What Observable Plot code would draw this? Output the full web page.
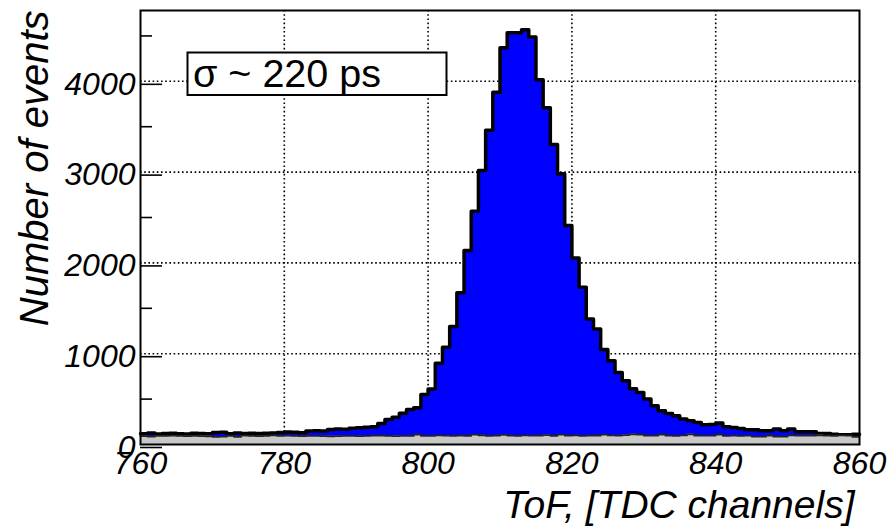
<!DOCTYPE html>
<html>
<head>
<meta charset="utf-8">
<script src="https://cdn.jsdelivr.net/npm/d3@7"></script>
<script src="https://cdn.jsdelivr.net/npm/@observablehq/plot@0.6"></script>
<style>
  html, body { margin: 0; padding: 0; background: #fff; }
  #chart { width: 890px; height: 531px; }
</style>
</head>
<body>
<div id="chart"></div>
<script>
// ---- data ----
const channelRange = [760, 860];          // x axis range (TDC channels)
const channels = d3.range(760, 860);      // bin lower edges, width 1 channel
const blueCounts = [
  118, 126, 116, 120, 124, 119, 117, 124, 121, 118,
  132, 134, 119, 128, 121, 124, 120, 125, 128, 131,
  138, 134, 130, 150, 152, 150, 165, 172, 168, 180,
  185, 190, 196, 230, 275, 300, 345, 385, 405, 552,
  611, 895, 1070, 1300, 1670, 2136, 2570, 3018, 3460, 3880,
  4370, 4536, 4536, 4569, 4488, 4018, 3709, 3304, 2981, 2411,
  2055, 1731, 1382, 1272, 1045, 923, 794, 702, 615, 573,
  500, 427, 372, 342, 316, 280, 261, 243, 217, 220,
  236, 195, 187, 176, 162, 162, 151, 151, 170, 151,
  170, 140, 140, 140, 121, 121, 114, 107, 107, 114
];
const grayCounts = [
  92, 86, 95, 96, 98, 94, 92, 95, 93, 90,
  84, 86, 95, 85, 97, 96, 92, 95, 100, 96,
  98, 94, 92, 96, 95, 92, 90, 93, 94, 96,
  92, 95, 97, 99, 95, 93, 96, 94, 110, 95,
  96, 100, 97, 95, 99, 96, 108, 102, 95, 97,
  105, 98, 96, 100, 97, 99, 104, 96, 108, 97,
  100, 95, 99, 97, 108, 100, 98, 104, 112, 110,
  99, 97, 110, 98, 96, 100, 112, 99, 97, 98,
  110, 96, 98, 95, 97, 88, 86, 99, 88, 86,
  100, 98, 97, 99, 101, 97, 96, 100, 98, 84
];
const yMax = 4780;
const xTicks = [760, 780, 800, 820, 840, 860];
const xGrid = [780, 800, 820, 840];
const yTicks = [0, 1000, 2000, 3000, 4000];
const yMinorTicks = [500, 1500, 2500, 3500, 4500];
const xTitle = "ToF, [TDC channels]";
const yTitle = "Number of events";
const legendText = "σ ~ 220 ps";

// step-outline points: one per bin edge, last value repeated at the upper edge
function stepPoints(counts) {
  const pts = channels.map((c, i) => ({x: c, y: counts[i]}));
  pts.push({x: channels[channels.length - 1] + 1, y: counts[counts.length - 1]});
  return pts;
}
const bluePts = stepPoints(blueCounts);
const grayPts = stepPoints(grayCounts);

const font = "'Liberation Sans', Arial, Helvetica, sans-serif";
const dotted = {stroke: "#000", strokeWidth: 1.6, strokeDasharray: "1.6,2.6"};

const plot = Plot.plot({
  width: 890,
  height: 531,
  marginLeft: 140,
  marginRight: 31,
  marginTop: 10,
  marginBottom: 87,
  style: {fontFamily: font, background: "#fff", color: "#000"},
  x: {domain: channelRange, label: null},
  y: {domain: [0, yMax], label: null},
  marks: [
    Plot.ruleX(xGrid, dotted),
    Plot.ruleY(yTicks.filter(d => d > 0), dotted),
    Plot.areaY(bluePts, {x: "x", y: "y", curve: "step-after", fill: "#0000ff"}),
    Plot.line(bluePts, {x: "x", y: "y", curve: "step-after", stroke: "#000", strokeWidth: 3.5}),
    Plot.areaY(grayPts, {x: "x", y: "y", curve: "step-after", fill: "#c8c8c8"}),
    Plot.line(grayPts, {x: "x", y: "y", curve: "step-after", stroke: "#222", strokeWidth: 1.8}),
    Plot.frame({stroke: "#000", strokeWidth: 2}),
    Plot.axisY({ticks: yTicks, tickSize: -22, tickPadding: 27, tickFormat: d => String(d),
      fontSize: 32, fontStyle: "italic", dy: 3, label: null, strokeWidth: 1.6}),
    Plot.axisY({ticks: yMinorTicks, tickSize: -12, text: null, label: null, strokeWidth: 1.6}),
    Plot.axisX({ticks: xTicks, tickSize: 0, tickPadding: 7, tickFormat: d => String(d),
      fontSize: 32, fontStyle: "italic", label: null}),
    Plot.text([yTitle], {frameAnchor: "top-left", rotate: -90, textAnchor: "end", lineAnchor: "bottom",
      dx: -93, dy: 0, fontSize: 40, fontStyle: "italic", fill: "#000"}),
    Plot.text([xTitle], {frameAnchor: "bottom-right", textAnchor: "end", lineAnchor: "bottom",
      dx: -5, dy: 73, fontSize: 39, fontStyle: "italic", fill: "#000"})
  ]
});

// legend box (annotation)
const svg = d3.select(plot);
const g = svg.append("g").attr("text-anchor", "start");
g.append("rect").attr("x", 187.5).attr("y", 52.5).attr("width", 259).attr("height", 42.5)
  .attr("fill", "#fff").attr("stroke", "#000").attr("stroke-width", 2);
g.append("text").attr("x", 193).attr("y", 86.5).attr("font-size", 39.5)
  .attr("text-anchor", "start").attr("font-style", "normal")
  .attr("font-family", font).attr("fill", "#000").text(legendText);

document.getElementById("chart").appendChild(plot);
</script>
</body>
</html>
